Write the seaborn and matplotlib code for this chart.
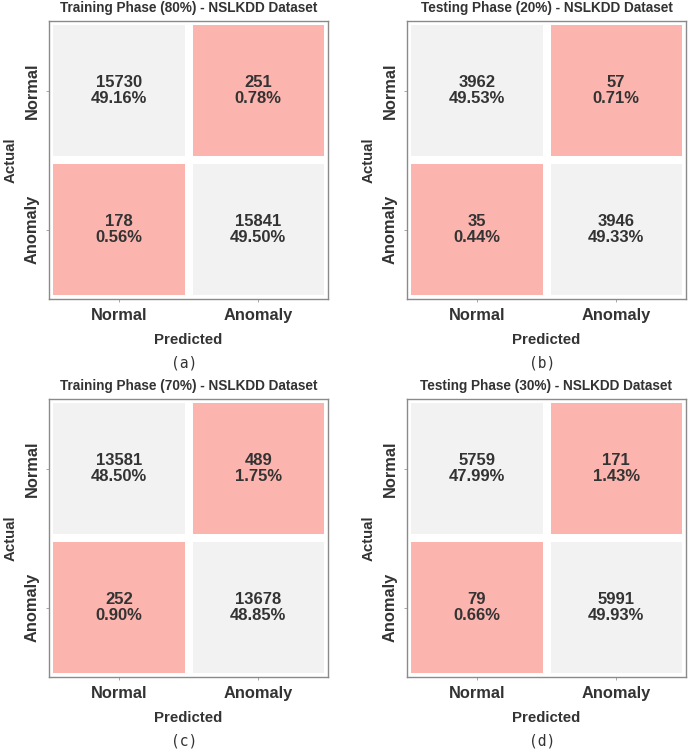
import numpy as np
import matplotlib
matplotlib.use("Agg")
import matplotlib.pyplot as plt
import seaborn as sns

# --- Data ---
labels = ["Normal", "Anomaly"]
titles = [
    "Training Phase (80%) - NSLKDD Dataset",
    "Testing Phase (20%) - NSLKDD Dataset",
    "Training Phase (70%) - NSLKDD Dataset",
    "Testing Phase (30%) - NSLKDD Dataset",
]
captions = ["(a)", "(b)", "(c)", "(d)"]
cm_train_80 = [[15730, 251], [178, 15841]]
cm_test_20 = [[3962, 57], [35, 3946]]
cm_train_70 = [[13581, 489], [252, 13678]]
cm_test_30 = [[5759, 171], [79, 5991]]
matrices = [cm_train_80, cm_test_20, cm_train_70, cm_test_30]

plt.rcParams["font.family"] = ["Liberation Sans", "DejaVu Sans"]
text_color = "#333333"

fig = plt.figure(figsize=(6.88, 7.5), dpi=100)

# axes boxes in pixel coordinates: left, top
boxes = [(49, 21), (407, 21), (49, 399), (407, 399)]
W, H = 688, 750
bw, bh = 279, 278

for cm, title, cap, (x0, y0) in zip(matrices, titles, captions, boxes):
    ax = fig.add_axes([x0 / W, 1 - (y0 + bh) / H, bw / W, bh / H])
    cm = np.array(cm)
    total = cm.sum()
    annot = np.array([[f"{v}\n{v / total * 100:.2f}%" for v in row] for row in cm])
    sns.heatmap(
        cm, annot=annot, fmt="", cmap="Pastel1", cbar=False,
        linewidths=4.5, linecolor="white", ax=ax,
        annot_kws={"fontsize": 12, "fontweight": "bold", "color": text_color,
                   "linespacing": 1.1},
        xticklabels=labels, yticklabels=labels,
    )
    for s in ax.spines.values():
        s.set_visible(True)
        s.set_color("#8a8a8a")
        s.set_linewidth(1.0)
    ax.tick_params(axis="both", length=2.5, width=0.6, color="#999999", pad=4)
    ax.set_xticklabels(labels, fontsize=11.8, fontweight="bold", color=text_color)
    ax.set_yticklabels(labels, fontsize=11.8, fontweight="bold", color=text_color,
                       rotation=90, va="center")
    ax.set_xlabel("Predicted", fontsize=10.8, fontweight="bold", color=text_color, labelpad=7)
    ax.set_ylabel("Actual", fontsize=10.8, fontweight="bold", color=text_color, labelpad=5)
    ax.set_title(title, fontsize=9.8, fontweight="bold", color=text_color, pad=6.5)
    ax.text(0.485, -0.23, cap, transform=ax.transAxes, ha="center", va="center",
            fontsize=10.5, family="DejaVu Sans Mono", color="#333333")

fig.savefig("out.png", dpi=100)
